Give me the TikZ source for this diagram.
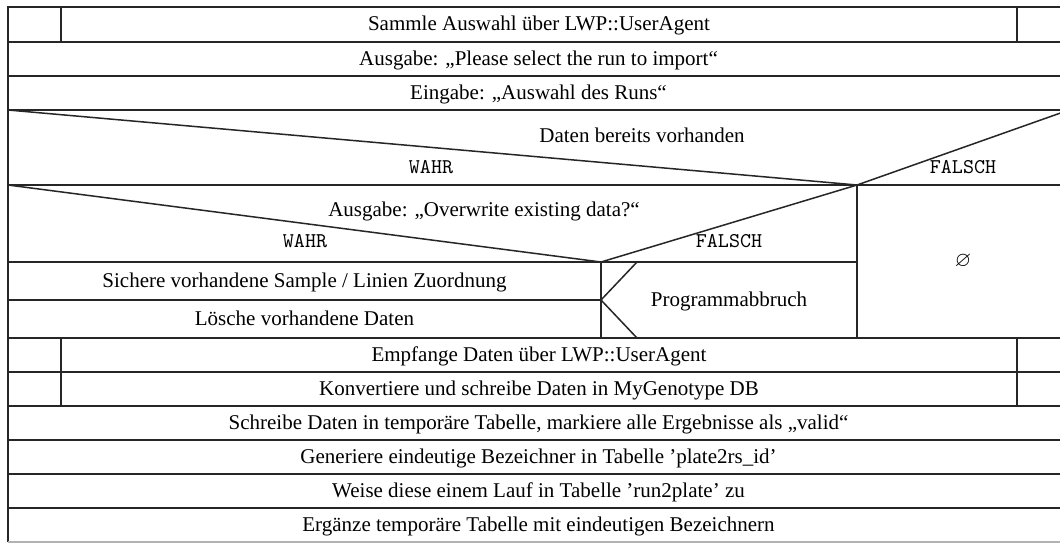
\documentclass[tikz,border=0pt]{standalone}
\usepackage{amssymb}
\usepackage{fontspec}
\setmainfont{Liberation Serif}
\begin{document}
\begin{tikzpicture}[x=0.5pt,y=-0.5pt,
  frame/.style={line width=0.75pt, draw=black!85},
  txt/.style={anchor=base, inner sep=0pt, font=\fontsize{10.5}{12}\selectfont},
  tag/.style={anchor=base, inner sep=0pt, font=\fontsize{10.5}{12}\selectfont\ttfamily}]
\useasboundingbox (0,0) rectangle (1060,543);
\fill[white] (0,0) rectangle (1060,543);
\begin{scope}
\clip (0,0) rectangle (1060,543);
% right edge of the structogram lies at x = 1069
\def\xr{1069}
% outer frame
\draw[frame] (8,542) -- (8,7) -- (\xr,7) -- (\xr,542);
\draw[frame, draw=black!30] (8,542) -- (\xr,542);
% full-width row separators
\foreach \yy in {42,76,110,185,338,372,406,440,474,508}
  \draw[frame] (8,\yy) -- (\xr,\yy);
% empty side columns of the three agent rows
\draw[frame] (61,7) -- (61,42);
\draw[frame] (1017,7) -- (1017,42);
\draw[frame] (61,338) -- (61,406);
\draw[frame] (1017,338) -- (1017,406);
% first decision
\draw[frame] (8,110) -- (857,185) -- (\xr,110);
\draw[frame] (857,185) -- (857,338);
% nested decision
\draw[frame] (8,185) -- (601,262) -- (857,185);
\draw[frame] (8,262) -- (857,262);
\draw[frame] (601,262) -- (601,338);
\draw[frame] (8,300) -- (601,300);
% abort symbol
\draw[frame] (637,262) -- (601,300) -- (637,338);
\end{scope}

% texts
\node[txt] (t1)  at (539,30.5) {Sammle Auswahl über LWP::UserAgent};
\node[txt] (t2)  at (538.5,65) {Ausgabe: „Please select the run to import“};
\node[txt] (t3)  at (538.5,99) {Eingabe: „Auswahl des Runs“};
\node[txt] (c1)  at (642,142) {Daten bereits vorhanden};
\node[tag] (w1)  at (431,173) {WAHR};
\node[tag] (f1)  at (963,173) {FALSCH};
\node[txt] (c2)  at (484,216) {Ausgabe: „Overwrite existing data?“};
\node[tag] (w2)  at (305,247) {WAHR};
\node[tag] (f2)  at (729,247) {FALSCH};
\node[txt] (t4)  at (304.5,287) {Sichere vorhandene Sample / Linien Zuordnung};
\node[txt] (t5)  at (304.5,325) {Lösche vorhandene Daten};
\node[txt] (ab)  at (729,306) {Programmabbruch};
\node[inner sep=0pt, font=\fontsize{10.5}{12}\selectfont] (em) at (963,261.5) {$\varnothing$};
\node[txt] (t6)  at (539,361) {Empfange Daten über LWP::UserAgent};
\node[txt] (t7)  at (539,395) {Konvertiere und schreibe Daten in MyGenotype DB};
\node[txt] (t8)  at (538.5,429) {Schreibe Daten in temporäre Tabelle, markiere alle Ergebnisse als „valid“};
\node[txt] (t9)  at (538.5,463) {Generiere eindeutige Bezeichner in Tabelle ’plate2rs\_id’};
\node[txt] (t10) at (538.5,497) {Weise diese einem Lauf in Tabelle ’run2plate’ zu};
\node[txt] (t11) at (538.5,531) {Ergänze temporäre Tabelle mit eindeutigen Bezeichnern};
\end{tikzpicture}
\end{document}
